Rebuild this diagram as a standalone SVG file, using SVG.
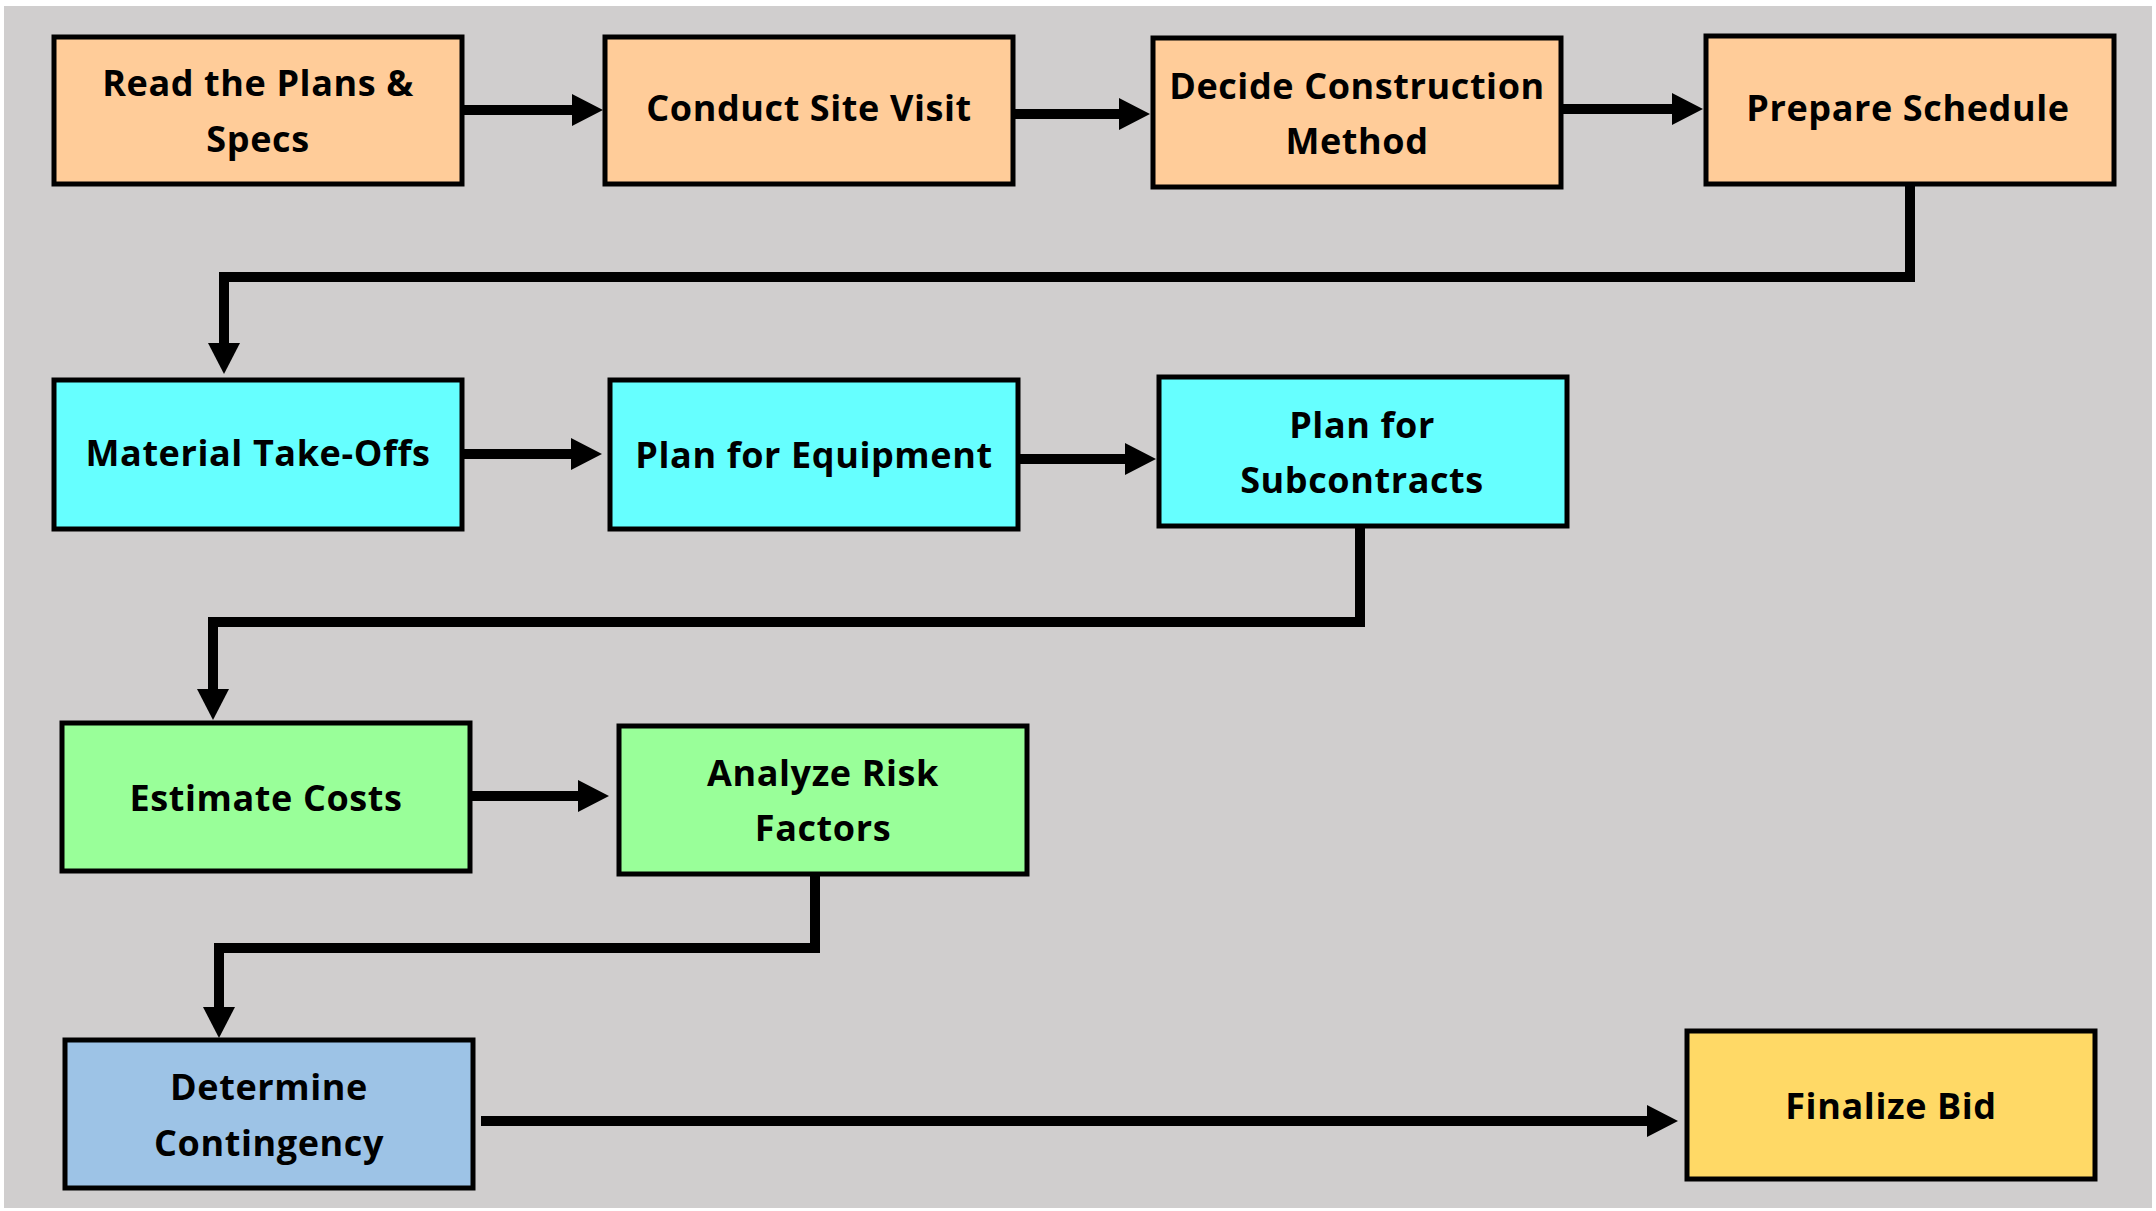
<svg xmlns="http://www.w3.org/2000/svg" width="2156" height="1211" viewBox="0 0 2156 1211">
<defs>
<style>
.box{stroke:#000;stroke-width:5}
.o{fill:#FFCC99}.c{fill:#66FFFF}.g{fill:#99FF99}.b{fill:#9DC3E6}.y{fill:#FFD966}
.t{font-family:"Open Sans","Liberation Sans",sans-serif;font-weight:700;font-size:36px;letter-spacing:0.6px;fill:#000;text-anchor:middle}
.ln{fill:none;stroke:#000;stroke-width:10;stroke-linejoin:miter}
</style>
<marker id="ah" markerUnits="userSpaceOnUse" markerWidth="32" markerHeight="32" refX="6" refY="16" orient="auto" viewBox="0 0 32 32">
<path d="M0,0 L31,16 L0,32 Z" fill="#000"/>
</marker>
</defs>
<rect x="0" y="0" width="2156" height="1211" fill="#fff"/>
<rect x="4" y="6" width="2148" height="1202" fill="#D0CECE"/>
<g id="connectors">
<line class="ln" x1="462" y1="110" x2="578" y2="110" marker-end="url(#ah)"/>
<line class="ln" x1="1013" y1="114" x2="1125" y2="114" marker-end="url(#ah)"/>
<line class="ln" x1="1561" y1="109" x2="1678" y2="109" marker-end="url(#ah)"/>
<polyline class="ln" points="1910,184 1910,277 224,277 224,349" marker-end="url(#ah)"/>
<line class="ln" x1="462" y1="454" x2="577" y2="454" marker-end="url(#ah)"/>
<line class="ln" x1="1018" y1="459" x2="1131" y2="459" marker-end="url(#ah)"/>
<polyline class="ln" points="1360,528 1360,622 213,622 213,695" marker-end="url(#ah)"/>
<line class="ln" x1="470" y1="796" x2="584" y2="796" marker-end="url(#ah)"/>
<polyline class="ln" points="815,873 815,948 219,948 219,1013" marker-end="url(#ah)"/>
<line class="ln" x1="481" y1="1121" x2="1653" y2="1121" marker-end="url(#ah)"/>
</g>
<g id="n1"><rect class="box o" x="54" y="37" width="408" height="147"/><text class="t" x="258" y="96">Read the Plans &amp;</text><text class="t" x="258" y="152">Specs</text></g>
<g id="n2"><rect class="box o" x="605" y="37" width="408" height="147"/><text class="t" x="809" y="121">Conduct Site Visit</text></g>
<g id="n3"><rect class="box o" x="1153" y="38" width="408" height="149"/><text class="t" x="1357" y="99">Decide Construction</text><text class="t" x="1357" y="154">Method</text></g>
<g id="n4"><rect class="box o" x="1706" y="36" width="408" height="148"/><text class="t" x="1908" y="121">Prepare Schedule</text></g>
<g id="n5"><rect class="box c" x="54" y="380" width="408" height="149"/><text class="t" x="258" y="466">Material Take-Offs</text></g>
<g id="n6"><rect class="box c" x="610" y="380" width="408" height="149"/><text class="t" x="814" y="468">Plan for Equipment</text></g>
<g id="n7"><rect class="box c" x="1159" y="377" width="408" height="149"/><text class="t" x="1362" y="438">Plan for</text><text class="t" x="1362" y="493">Subcontracts</text></g>
<g id="n8"><rect class="box g" x="62" y="723" width="408" height="148"/><text class="t" x="266" y="811">Estimate Costs</text></g>
<g id="n9"><rect class="box g" x="619" y="726" width="408" height="148"/><text class="t" x="823" y="786">Analyze Risk</text><text class="t" x="823" y="841">Factors</text></g>
<g id="n10"><rect class="box b" x="65" y="1040" width="408" height="148"/><text class="t" x="269" y="1100">Determine</text><text class="t" x="269" y="1156">Contingency</text></g>
<g id="n11"><rect class="box y" x="1687" y="1031" width="408" height="148"/><text class="t" x="1891" y="1119">Finalize Bid</text></g>
</svg>
